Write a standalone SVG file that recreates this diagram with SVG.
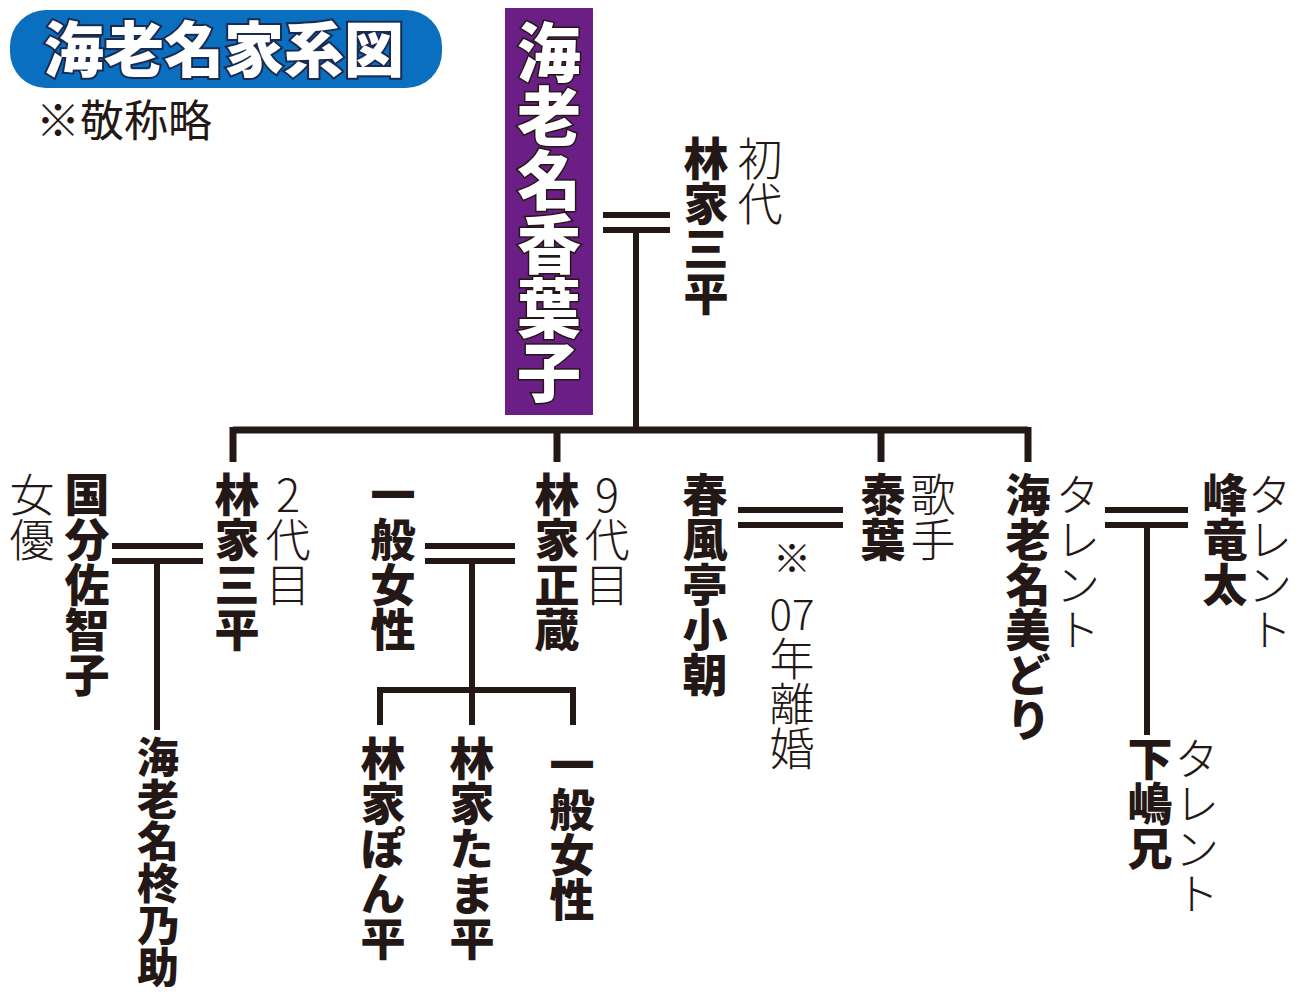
<svg xmlns="http://www.w3.org/2000/svg" width="1300" height="995" viewBox="0 0 1300 995">
<style>
.v{writing-mode:vertical-rl;text-orientation:upright;font-family:"Noto Sans CJK JP","Noto Sans CJK SC",sans-serif;font-size:45px;fill:#231815}
.b{font-weight:900}
.l{font-weight:300}
.ln{stroke:#231815;stroke-width:6;fill:none}
</style>
<rect width="1300" height="995" fill="#fff"/>
<g id="title">
<rect x="10" y="10" width="432" height="78" rx="36" fill="#0a6fbf"/>
<text x="224" y="72" text-anchor="middle" font-family="Noto Sans CJK JP,sans-serif" font-weight="900" font-size="60" fill="#fff" stroke="#1a2a50" stroke-width="4" paint-order="stroke">海老名家系図</text>
<text x="36" y="137" font-family="Noto Sans CJK JP,sans-serif" font-size="44" fill="#231815">※敬称略</text>
</g>
<g id="kayoko">
<rect x="505" y="8" width="88" height="407" fill="#6b1f86"/>
<text class="v b" x="549" y="20" style="font-size:64px;fill:#fff" stroke="#231815" stroke-width="3" paint-order="stroke">海老名香葉子</text>
</g>
<g id="connectors" class="ln">
<path d="M603 215H670M603 230H670M636 230V430"/>
<path d="M233 430H1028M233 427V462M557 427V462M881 427V462M1028 427V462" stroke-width="7"/>
<path d="M112 546H203M112 561H203M157 561V730"/>
<path d="M425 546H515M425 561H515M472 561V690M380 690H573M380 687V725M472 690V725M573 687V725"/>
<path d="M738 510H843M738 525H843"/>
<path d="M1105 510H1188M1105 525H1188M1147 525V735"/>
</g>
<g id="n_sanpei1"><text class="v b" x="706" y="136">林家三平</text><text class="v l" x="760" y="136">初代</text></g>
<g id="n_sanpei2"><text class="v b" x="237" y="472">林家三平</text><text class="v l" x="288" y="472">2代目</text></g>
<g id="n_sachiko"><text class="v b" x="87" y="472">国分佐智子</text><text class="v l" x="32" y="472">女優</text></g>
<g id="n_shunosuke"><text class="v b" x="158" y="736" style="font-size:42px">海老名柊乃助</text></g>
<g id="n_ippan1"><text class="v b" x="393" y="472">一般女性</text></g>
<g id="n_shozo"><text class="v b" x="557" y="472">林家正蔵</text><text class="v l" x="607" y="472">9代目</text></g>
<g id="n_ponpei"><text class="v b" x="383" y="736">林家ぽん平</text></g>
<g id="n_tamahei"><text class="v b" x="472" y="736">林家たま平</text></g>
<g id="n_ippan2"><text class="v b" x="572" y="742">一般女性</text></g>
<g id="n_koasa"><text class="v b" x="705" y="472">春風亭小朝</text>
<text x="792" y="572" text-anchor="middle" font-family="Noto Sans CJK JP,sans-serif" font-weight="300" font-size="38" fill="#231815">※</text>
<text x="792" y="630" text-anchor="middle" font-family="Noto Sans CJK JP,sans-serif" font-weight="300" font-size="42" fill="#231815">07</text>
<text class="v l" x="792" y="636">年離婚</text></g>
<g id="n_yasuha"><text class="v b" x="883" y="472">泰葉</text><text class="v l" x="933" y="472">歌手</text></g>
<g id="n_midori"><text class="v b" x="1028" y="472">海老名美どり</text><text class="v l" x="1078" y="472">タレント</text></g>
<g id="n_mine"><text class="v b" x="1225" y="472">峰竜太</text><text class="v l" x="1270" y="472">タレント</text></g>
<g id="n_shimojima"><text class="v b" x="1150" y="736">下嶋兄</text><text class="v l" x="1197" y="736">タレント</text></g>
</svg>
